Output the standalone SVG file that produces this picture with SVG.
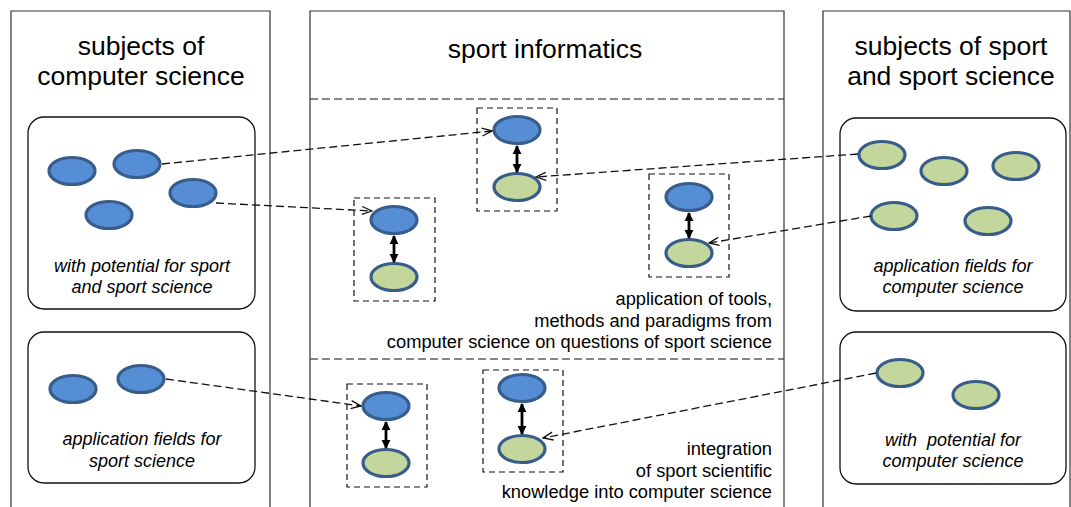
<svg xmlns="http://www.w3.org/2000/svg" width="1071" height="507" viewBox="0 0 1071 507">
  <style>
    .col { fill: none; stroke: #333333; stroke-width: 1.2; }
    .group { fill: #ffffff; stroke: #111111; stroke-width: 1.3; }
    .sep { fill: none; stroke: #111111; stroke-width: 1.2; stroke-dasharray: 8 4; }
    .pair { fill: none; stroke: #111111; stroke-width: 1.2; stroke-dasharray: 6 4; }
    .cs { fill: #558ed5; stroke: #385d8a; stroke-width: 3.2; }
    .sp { fill: #c3d69b; stroke: #385d8a; stroke-width: 3.2; }
    .title { font-family: "Liberation Sans", Arial, sans-serif; font-size: 26.5px; fill: #000; text-anchor: middle; }
    .label { font-family: "Liberation Sans", Arial, sans-serif; font-size: 18px; font-style: italic; fill: #000; text-anchor: middle; }
    .note { font-family: "Liberation Sans", Arial, sans-serif; font-size: 18.3px; fill: #000; text-anchor: end; }
    .link { fill: none; stroke: #111111; stroke-width: 1.3; stroke-dasharray: 8 4; marker-end: url(#open); }
    .bond { fill: none; stroke: #000; stroke-width: 2.8; marker-start: url(#solid); marker-end: url(#solid); }
  </style>
  <defs>
    <marker id="open" viewBox="0 0 12 10" refX="11" refY="5" markerWidth="12" markerHeight="10" markerUnits="userSpaceOnUse" orient="auto">
      <path d="M1,1 L11,5 L1,9" fill="none" stroke="#111111" stroke-width="1.3"/>
    </marker>
    <marker id="solid" viewBox="0 0 10 10" refX="9" refY="5" markerWidth="9" markerHeight="10" markerUnits="userSpaceOnUse" orient="auto-start-reverse">
      <path d="M0,0 L10,5 L0,10 Z" fill="#000"/>
    </marker>
  </defs>

  <rect width="1071" height="507" fill="#ffffff"/>

  <!-- three columns, open at the bottom -->
  <g id="col-computer-science">
    <path class="col" d="M11,510 V11 H270 V510"/>
    <text class="title" x="141" y="55">subjects of</text>
    <text class="title" x="141" y="85">computer science</text>
  </g>
  <g id="col-sport-informatics">
    <path class="col" d="M310,510 V11 H784 V510"/>
    <text class="title" x="545" y="58">sport informatics</text>
    <line class="sep" x1="310" y1="99" x2="784" y2="99"/>
    <line class="sep" x1="310" y1="359" x2="784" y2="359"/>
    <text class="note" x="772" y="305">application of tools,</text>
    <text class="note" x="772" y="327">methods and paradigms from</text>
    <text class="note" x="772" y="348">computer science on questions of sport science</text>
    <text class="note" x="772" y="455">integration</text>
    <text class="note" x="772" y="477">of sport scientific</text>
    <text class="note" x="772" y="498">knowledge into computer science</text>
  </g>
  <g id="col-sport-science">
    <path class="col" d="M823,510 V11 H1070 V510"/>
    <text class="title" x="951" y="55">subjects of sport</text>
    <text class="title" x="951" y="85">and sport science</text>
  </g>

  <!-- computer science topics with potential for sport -->
  <g id="cs-potential">
    <rect class="group" x="28" y="117" width="227" height="192" rx="16"/>
    <ellipse class="cs" cx="72" cy="171" rx="23" ry="13.5"/>
    <ellipse class="cs" cx="137" cy="164" rx="23" ry="13.5"/>
    <ellipse class="cs" cx="193" cy="193" rx="23" ry="13.5"/>
    <ellipse class="cs" cx="109" cy="215" rx="23" ry="13.5"/>
    <text class="label" x="142" y="272">with potential for sport</text>
    <text class="label" x="142" y="293">and sport science</text>
  </g>

  <!-- computer science application fields for sport science -->
  <g id="cs-application">
    <rect class="group" x="28" y="332" width="227" height="151" rx="16"/>
    <ellipse class="cs" cx="73" cy="389" rx="23" ry="13.5"/>
    <ellipse class="cs" cx="141" cy="379" rx="23" ry="13.5"/>
    <text class="label" x="142" y="445">application fields for</text>
    <text class="label" x="142" y="467">sport science</text>
  </g>

  <!-- sport topics used as application fields -->
  <g id="sport-application">
    <rect class="group" x="840" y="118" width="226" height="193" rx="16"/>
    <ellipse class="sp" cx="882" cy="155" rx="23" ry="13.5"/>
    <ellipse class="sp" cx="944" cy="171" rx="23" ry="13.5"/>
    <ellipse class="sp" cx="1016" cy="166" rx="23" ry="13.5"/>
    <ellipse class="sp" cx="894" cy="216" rx="23" ry="13.5"/>
    <ellipse class="sp" cx="988" cy="221" rx="23" ry="13.5"/>
    <text class="label" x="953" y="272">application fields for</text>
    <text class="label" x="953" y="293">computer science</text>
  </g>

  <!-- sport topics with potential for computer science -->
  <g id="sport-potential">
    <rect class="group" x="840" y="332" width="226" height="152" rx="16"/>
    <ellipse class="sp" cx="900" cy="373" rx="23" ry="13.5"/>
    <ellipse class="sp" cx="976" cy="395" rx="23" ry="13.5"/>
    <text class="label" x="953" y="446" xml:space="preserve">with  potential for</text>
    <text class="label" x="953" y="467">computer science</text>
  </g>

  <!-- coupled pairs inside sport informatics -->
  <g id="pair-a">
    <rect class="pair" x="354" y="198" width="81" height="103"/>
    <ellipse class="cs" cx="394" cy="220" rx="23" ry="13.5"/>
    <ellipse class="sp" cx="394" cy="277" rx="23" ry="13.5"/>
  </g>
  <g id="pair-b">
    <rect class="pair" x="477" y="108" width="80" height="103"/>
    <ellipse class="cs" cx="517" cy="130" rx="23" ry="13.5"/>
    <ellipse class="sp" cx="517" cy="187" rx="23" ry="13.5"/>
  </g>
  <g id="pair-c">
    <rect class="pair" x="649" y="174" width="80" height="103"/>
    <ellipse class="cs" cx="689" cy="197" rx="23" ry="13.5"/>
    <ellipse class="sp" cx="689" cy="253" rx="23" ry="13.5"/>
  </g>
  <g id="pair-d">
    <rect class="pair" x="347" y="384" width="80" height="103"/>
    <ellipse class="cs" cx="386" cy="406" rx="23" ry="13.5"/>
    <ellipse class="sp" cx="386" cy="463" rx="23" ry="13.5"/>
  </g>
  <g id="pair-e">
    <rect class="pair" x="483" y="370" width="80" height="102"/>
    <ellipse class="cs" cx="522" cy="388" rx="23" ry="13.5"/>
    <ellipse class="sp" cx="522" cy="449" rx="23" ry="13.5"/>
  </g>

  <!-- connectors -->
  <g id="connectors">
    <line class="bond" x1="394" y1="236" x2="394" y2="262"/>
    <line class="bond" x1="517" y1="146" x2="517" y2="172"/>
    <line class="bond" x1="689" y1="213" x2="689" y2="238"/>
    <line class="bond" x1="386" y1="422" x2="386" y2="448"/>
    <line class="bond" x1="522" y1="404" x2="522" y2="434"/>

    <line class="link" x1="162" y1="164" x2="492" y2="131"/>
    <line class="link" x1="216" y1="203" x2="372" y2="211"/>
    <line class="link" x1="858" y1="154" x2="536" y2="177"/>
    <line class="link" x1="871" y1="216" x2="709" y2="243"/>
    <line class="link" x1="166" y1="379" x2="361" y2="406"/>
    <line class="link" x1="876" y1="373" x2="543" y2="438"/>
  </g>
</svg>
